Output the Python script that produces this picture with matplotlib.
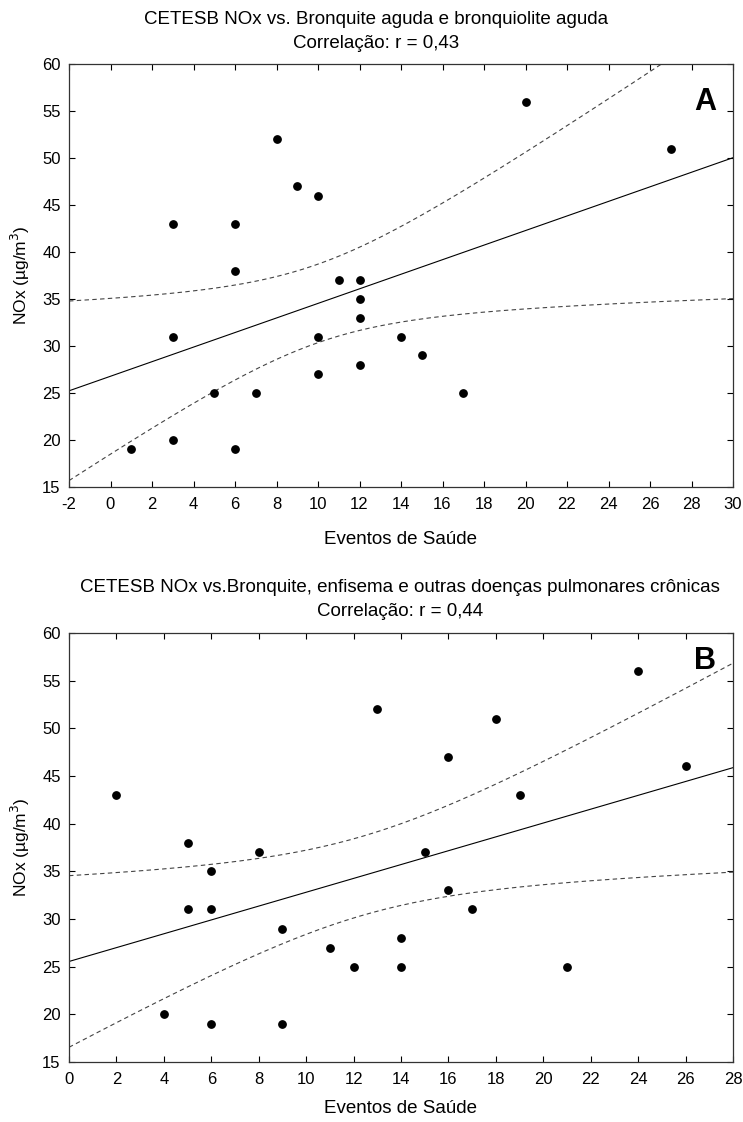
import numpy as np
import matplotlib.pyplot as plt

plt.rcParams['font.family'] = ['Liberation Sans', 'DejaVu Sans']
plt.rcParams['axes.unicode_minus'] = False

# Painel A - Bronquite aguda e bronquiolite aguda
eventos_a = [1, 3, 3, 3, 5, 6, 6, 6, 7, 8, 9, 10, 10, 10, 11, 12, 12, 12, 12, 14, 15, 17, 20, 27]
nox_a = [19, 43, 31, 20, 25, 43, 38, 19, 25, 52, 47, 46, 31, 27, 37, 37, 35, 33, 28, 31, 29, 25, 56, 51]

# Painel B - Bronquite, enfisema e outras doenças pulmonares crônicas
eventos_b = [2, 4, 5, 5, 6, 6, 6, 8, 9, 9, 11, 12, 13, 14, 14, 15, 16, 16, 17, 18, 19, 21, 24, 26]
nox_b = [43, 20, 38, 31, 35, 31, 19, 37, 29, 19, 27, 25, 52, 28, 25, 37, 47, 33, 31, 51, 43, 25, 56, 46]

titulo_a = ['CETESB NOx vs. Bronquite aguda e bronquiolite aguda', 'Correlação: r = 0,43']
titulo_b = ['CETESB NOx vs.Bronquite, enfisema e outras doenças pulmonares crônicas', 'Correlação: r = 0,44']

W, H = 743, 1122


def painel(ax, x, y, xlim, xticks, titulo, tit_x, tit_y, xlab_y, letra, letra_y):
    x = np.array(x, dtype=float)
    y = np.array(y, dtype=float)
    n = len(x)
    b, a = np.polyfit(x, y, 1)

    # reta ajustada e intervalo de confiança de 95%
    xx = np.linspace(xlim[0], xlim[1], 200)
    yy = a + b * xx
    res = y - (a + b * x)
    s = np.sqrt(np.sum(res ** 2) / (n - 2))
    sxx = np.sum((x - x.mean()) ** 2)
    t = 2.0739  # t(0.975, 22)
    se = s * np.sqrt(1.0 / n + (xx - x.mean()) ** 2 / sxx)

    ax.plot(xx, yy, color='black', lw=0.8)
    ax.plot(xx, yy + t * se, color='#444444', lw=0.8, ls=(0, (4, 3)))
    ax.plot(xx, yy - t * se, color='#444444', lw=0.8, ls=(0, (4, 3)))
    ax.scatter(x, y, s=28, color='black', zorder=3)

    ax.set_xlim(xlim)
    ax.set_ylim(15, 60)
    ax.set_xticks(xticks)
    ax.set_yticks(range(15, 61, 5))
    ax.tick_params(direction='in', top=True, right=True, labelsize=12, length=4, width=0.8)
    ax.tick_params(axis='x', pad=7)
    ax.tick_params(axis='y', pad=6)
    for sp in ax.spines.values():
        sp.set_linewidth(0.9)
        sp.set_color('#333333')
    ax.set_xlabel('Eventos de Saúde', fontsize=13.5)
    ax.xaxis.set_label_coords(0.5, xlab_y)
    ax.set_ylabel('NOx (µg/m$^3$)', fontsize=12.5)
    ax.yaxis.set_label_coords(-0.056, 0.5)
    ax.text(0.975, letra_y, letra, transform=ax.transAxes, fontsize=22,
            fontweight='bold', ha='right', va='top')

    # título em duas linhas (posições em pixels)
    for linha, ty in zip(titulo, tit_y):
        fig.text(tit_x / W, 1 - ty / H, linha, fontsize=13.5, ha='center', va='center')


fig = plt.figure(figsize=(W / 100, H / 100), dpi=100)
ax1 = fig.add_axes([69 / W, 1 - 487 / H, 664 / W, 423 / H])
ax2 = fig.add_axes([69 / W, 1 - 1062 / H, 664 / W, 429 / H])

painel(ax1, eventos_a, nox_a, (-2, 30), range(-2, 31, 2), titulo_a, 376, (19, 43), -0.105, 'A', 0.945)
painel(ax2, eventos_b, nox_b, (0, 28), range(0, 29, 2), titulo_b, 400, (588, 611), -0.088, 'B', 0.97)

fig.savefig('out.png', dpi=100)
